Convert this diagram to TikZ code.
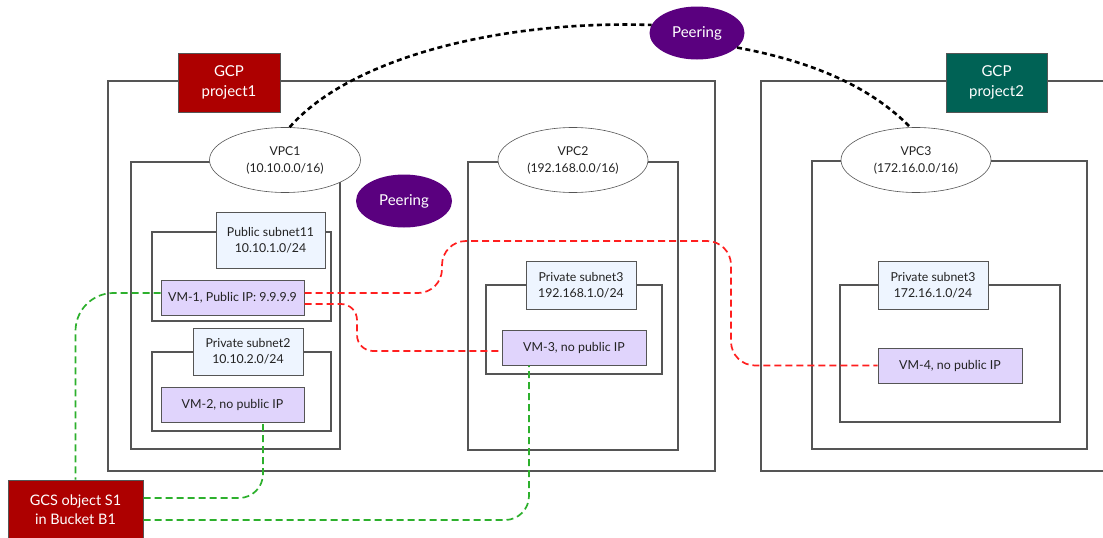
\documentclass[tikz,border=0pt]{standalone}
\usepackage{fontspec}
\setmainfont{Lato}
\usetikzlibrary{shapes.geometric,calc}
\definecolor{gcpred}{HTML}{AD0000}
\definecolor{gcpteal}{HTML}{006255}
\definecolor{peerpurple}{HTML}{5A007F}
\definecolor{subblue}{HTML}{EEF5FF}
\definecolor{vmlav}{HTML}{E0D4FC}
\definecolor{edgegray}{HTML}{555555}
\definecolor{redline}{HTML}{FF1F1F}
\definecolor{greenline}{HTML}{2DB02D}
\definecolor{txt}{HTML}{222222}
\tikzset{
  box/.style={rectangle, inner sep=0pt, anchor=center},
  container/.style={box, draw=edgegray, line width=1.2pt},
  projlbl/.style={box, draw=edgegray, line width=1pt, text=white, align=center, font=\fontsize{15}{20}\selectfont},
  vpcell/.style={ellipse, inner sep=0pt, draw=edgegray, line width=0.6pt, fill=white, text=txt, align=center, font=\fontsize{12.2}{17}\selectfont},
  peerell/.style={ellipse, inner sep=0pt, fill=peerpurple, text=white, font=\fontsize{15}{18}\selectfont},
  sublbl/.style={box, draw=edgegray, line width=1pt, fill=subblue, text=txt, align=center, font=\fontsize{12.3}{16}\selectfont},
  vmbox/.style={box, draw=edgegray, line width=1pt, fill=vmlav, text=txt, font=\fontsize{12.4}{15}\selectfont},
  peerlink/.style={line width=2.6pt, dash pattern=on 5pt off 3.5pt, black},
  redlink/.style={line width=1.7pt, dash pattern=on 7pt off 4pt, redline, rounded corners=24pt},
  greenlink/.style={line width=1.7pt, dash pattern=on 7pt off 4pt, greenline, rounded corners=24pt},
}
\begin{document}
\begin{tikzpicture}[x=1pt,y=-1pt]
\useasboundingbox (0,0) rectangle (1103,538);
\clip (0,0) rectangle (1103,538);
\fill[white] (0,0) rectangle (1103,538);

% projects
\node[container, minimum width=607pt, minimum height=390pt] (proj1) at (411.5,276) {};
\node[container, minimum width=349pt, minimum height=390pt] (proj2) at (935.5,276) {};
\node[projlbl, fill=gcpred, minimum width=102pt, minimum height=59pt] (proj1lbl) at (229,82.5) {GCP\\project1};
\node[projlbl, fill=gcpteal, minimum width=101pt, minimum height=59pt] (proj2lbl) at (996.5,82.5) {GCP\\project2};

% VPCs
\node[container, minimum width=209pt, minimum height=287pt] (vpc1) at (235.5,305.5) {};
\node[container, minimum width=210pt, minimum height=288pt] (vpc2) at (573,306) {};
\node[container, minimum width=275pt, minimum height=288pt] (vpc3) at (949.5,305) {};
\node[vpcell, minimum width=151pt, minimum height=65pt] (vpc1e) at (285,160) {VPC1\\(10.10.0.0/16)};
\node[vpcell, minimum width=150pt, minimum height=65pt] (vpc2e) at (573,160) {VPC2\\(192.168.0.0/16)};
\node[vpcell, minimum width=150pt, minimum height=65pt] (vpc3e) at (916,160) {VPC3\\(172.16.0.0/16)};

% peering
\node[peerell, minimum width=96pt, minimum height=53pt] (peer1) at (404,201) {Peering};
\node[peerell, minimum width=95pt, minimum height=53pt] (peer2) at (697,33) {Peering};

% subnets
\node[container, minimum width=179pt, minimum height=89pt] (sub11) at (241.5,276.5) {};
\node[sublbl, minimum width=109pt, minimum height=56pt] (sub11l) at (270.5,240) {Public subnet11\\10.10.1.0/24};
\node[container, minimum width=179pt, minimum height=79pt] (sub2) at (241.5,391.5) {};
\node[sublbl, minimum width=110pt, minimum height=47pt] (sub2l) at (248,351.5) {Private subnet2\\10.10.2.0/24};
\node[container, minimum width=176pt, minimum height=89pt] (sub3) at (574,329.5) {};
\node[sublbl, minimum width=110pt, minimum height=48pt] (sub3l) at (581,285) {Private subnet3\\192.168.1.0/24};
\node[container, minimum width=220pt, minimum height=137pt] (sub4) at (950,353.5) {};
\node[sublbl, minimum width=110pt, minimum height=48pt] (sub4l) at (933,285) {Private subnet3\\172.16.1.0/24};

% VMs
\node[vmbox, minimum width=143pt, minimum height=35pt] (vm1) at (232.5,297.5) {VM-1, Public IP: 9.9.9.9};
\node[vmbox, minimum width=143pt, minimum height=35pt] (vm2) at (232.5,404.5) {VM-2, no public IP};
\node[vmbox, minimum width=144pt, minimum height=35pt] (vm3) at (574,347.5) {VM-3, no public IP};
\node[vmbox, minimum width=144pt, minimum height=35pt] (vm4) at (950,365.5) {VM-4, no public IP};

% GCS
\node[box, draw=edgegray, line width=1pt, fill=gcpred, text=white, align=center, font=\fontsize{14.5}{19}\selectfont, minimum width=135pt, minimum height=60pt] (gcs) at (75.5,510) {GCS object S1\\in Bucket B1};

% peering links
\draw[peerlink] (vpc1e.82) .. controls (350,58) and (500,20) .. (peer2.170);
\draw[peerlink] (peer2.-20) .. controls (815,62) and (872,88) .. (vpc3e.100);

% red links
\draw[redlink] ([yshift=4.5pt]vm1.east) -- (442,293) -- (442,241) -- (731,241) |- (vm4.west);
\draw[redlink, rounded corners=16pt] ([yshift=-6.5pt]vm1.east) -- (357,304) |- ([yshift=-3.5pt]vm3.west);

% green links
\draw[greenlink, rounded corners=38pt] ([yshift=4.5pt]vm1.west) -| (gcs.north);
\draw[greenlink] ([yshift=12pt]gcs.east) -| ([xshift=30.5pt]vm2.south);
\draw[greenlink] ([yshift=-10pt]gcs.east) -| ([xshift=-45pt]vm3.south);
\end{tikzpicture}
\end{document}
